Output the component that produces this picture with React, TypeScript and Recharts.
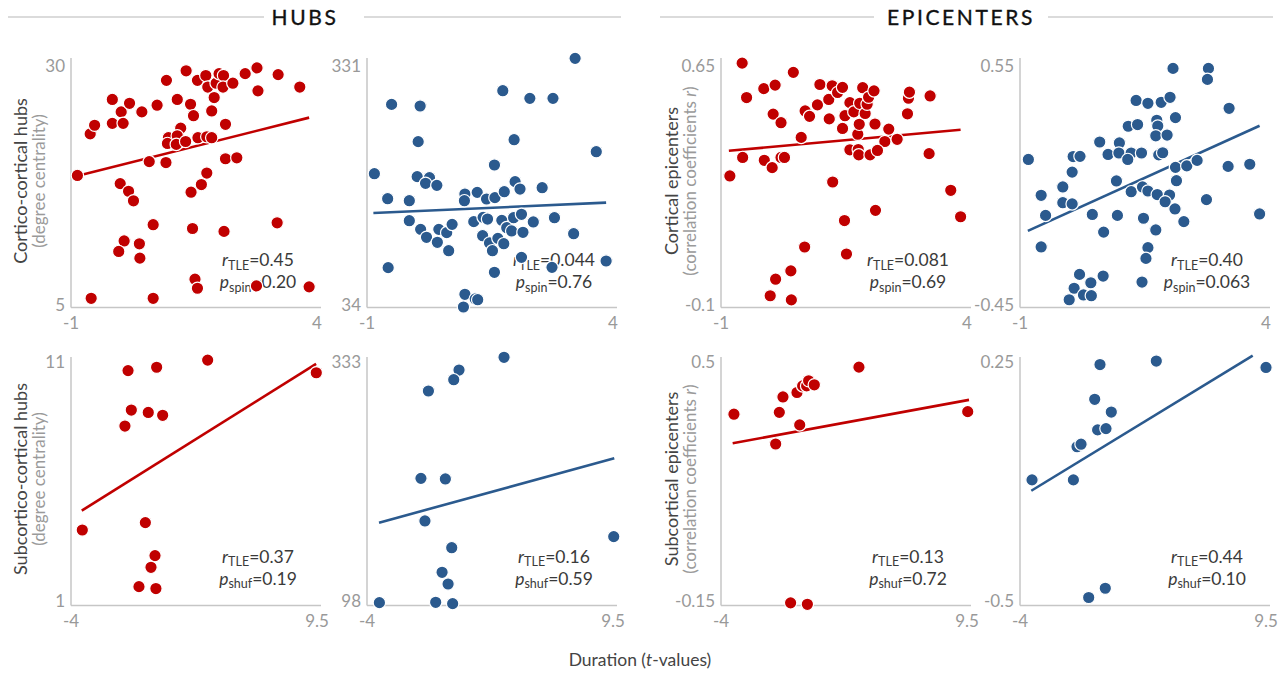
import React from 'react';
import { ScatterChart, Scatter, XAxis, YAxis, ReferenceLine } from 'recharts';

// ---------- DATA ----------
type Pt = [number, number];

// Top row x: Duration (t-values), left TLE (red) / right TLE (blue)
const ctxHubsLeft: Pt[] = [
  [-0.87, 18.55], [-0.61, 22.9], [-0.52, 23.8], [-0.16, 26.5], [0.02, 25.2], [0.19, 26.1], [-0.16, 24.0], [0.06, 24.0],
  [0.44, 25.2], [0.75, 25.9], [0.94, 28.5], [1.16, 26.5], [1.34, 29.5], [1.43, 26.0], [1.49, 24.8], [1.57, 28.5],
  [1.74, 29.0], [1.78, 27.8], [1.91, 26.7], [1.86, 25.3], [1.95, 28.2], [2.01, 29.2], [2.1, 29.0], [2.09, 27.8],
  [2.29, 28.2], [2.54, 29.2], [2.78, 29.8], [2.8, 27.4], [3.21, 29.1], [3.65, 27.8], [2.14, 23.9], [1.23, 23.5],
  [0.98, 22.5], [1.16, 22.7], [0.96, 21.9], [1.14, 21.8], [1.33, 22.1], [1.58, 22.5], [1.76, 22.6], [1.86, 22.5],
  [0.59, 20.0], [0.93, 19.9], [2.14, 20.3], [2.37, 20.4], [1.76, 18.8], [1.65, 17.6], [1.44, 16.8], [0.0, 17.7],
  [0.17, 16.9], [0.27, 15.9], [0.67, 13.4], [1.47, 13.0], [2.11, 12.7], [3.19, 13.6], [0.08, 11.7], [-0.03, 10.6],
  [0.39, 11.4], [0.4, 9.9], [1.52, 7.7], [1.57, 6.75], [2.77, 7.0], [3.84, 6.9], [-0.59, 5.7], [0.67, 5.7],
];
const ctxHubsLeftFit: Pt[] = [[-0.88, 18.5], [3.84, 24.6]];

const ctxHubsRight: Pt[] = [
  [3.23, 340.5], [-0.5, 283.3], [0.08, 281.3], [1.76, 300.3], [2.31, 290.8], [2.78, 290.8], [0.04, 237.0], [1.99, 239.4],
  [3.66, 224.5], [-0.85, 197.2], [1.59, 208.0], [0.02, 193.5], [0.27, 192.2], [0.19, 185.2], [0.42, 182.7], [2.01, 187.3],
  [2.11, 178.1], [2.56, 179.8], [-0.58, 166.1], [-0.14, 163.6], [0.99, 171.9], [0.98, 163.6], [1.24, 174.0], [1.43, 165.7],
  [1.6, 167.4], [1.79, 174.8], [-0.14, 138.8], [0.09, 128.0], [0.21, 118.1], [0.43, 111.9], [0.46, 128.0], [0.62, 123.9],
  [0.73, 134.2], [0.66, 101.5], [1.17, 137.6], [1.36, 142.9], [1.45, 140.8], [1.35, 120.1], [1.49, 111.1], [1.55, 101.5],
  [1.66, 116.8], [1.78, 110.2], [1.74, 139.2], [1.84, 130.1], [1.94, 126.0], [1.98, 142.5], [2.14, 146.7], [2.17, 124.3],
  [2.38, 137.2], [2.81, 142.5], [3.2, 122.6], [2.14, 93.2], [2.76, 80.8], [3.86, 88.7], [-0.57, 80.4], [1.59, 74.6],
  [0.99, 47.3], [1.2, 41.5], [1.25, 40.6], [0.96, 31.5],
];
const ctxHubsRightFit: Pt[] = [[-0.87, 148.3], [3.86, 161.2]];

const ctxEpiLeft: Pt[] = [
  [-0.57, 0.659], [0.47, 0.63], [-0.13, 0.579], [0.1, 0.59], [-0.48, 0.551], [0.06, 0.499], [0.22, 0.472], [0.63, 0.426],
  [0.71, 0.509], [0.8, 0.492], [0.96, 0.528], [1.01, 0.592], [1.2, 0.484], [1.19, 0.545], [1.26, 0.588], [1.37, 0.567],
  [1.47, 0.583], [1.47, 0.454], [1.52, 0.494], [1.62, 0.535], [1.7, 0.506], [1.78, 0.436], [1.81, 0.467], [1.82, 0.533],
  [1.88, 0.582], [1.93, 0.501], [1.97, 0.53], [2.0, 0.552], [2.11, 0.572], [2.13, 0.468], [2.41, 0.452], [2.33, 0.413],
  [2.58, 0.42], [1.62, 0.387], [1.79, 0.388], [1.8, 0.371], [2.03, 0.371], [2.18, 0.385], [2.79, 0.5], [2.81, 0.549],
  [2.83, 0.568], [3.25, 0.556], [3.23, 0.375], [-0.56, 0.363], [-0.12, 0.354], [0.04, 0.331], [0.22, 0.363], [0.29, 0.363],
  [-0.82, 0.305], [1.27, 0.286], [3.67, 0.26], [3.87, 0.177], [2.14, 0.197], [1.51, 0.165], [0.7, 0.082], [1.55, 0.06],
  [0.42, 0.007], [0.11, -0.019], [0.0, -0.071], [0.43, -0.084],
];
const ctxEpiLeftFit: Pt[] = [[-0.84, 0.384], [3.87, 0.45]];

const ctxEpiRight: Pt[] = [
  [2.11, 0.54], [2.83, 0.54], [2.81, 0.494], [3.25, 0.373], [1.36, 0.406], [1.6, 0.394], [1.87, 0.398], [2.05, 0.419],
  [2.16, 0.334], [1.78, 0.323], [1.8, 0.299], [1.76, 0.258], [1.99, 0.261], [1.2, 0.298], [1.39, 0.305], [0.62, 0.232],
  [1.02, 0.228], [0.08, 0.171], [0.22, 0.172], [0.79, 0.18], [1.01, 0.186], [1.26, 0.186], [1.47, 0.186], [1.19, 0.159],
  [1.82, 0.178], [1.9, 0.187], [-0.83, 0.159], [0.06, 0.106], [2.16, 0.126], [2.39, 0.132], [2.6, 0.155], [3.23, 0.13],
  [3.67, 0.139], [-0.13, 0.044], [-0.57, 0.009], [-0.13, -0.022], [0.06, -0.027], [0.96, 0.069], [1.26, 0.024], [1.49, 0.044],
  [1.6, 0.027], [1.79, 0.012], [2.04, 0.01], [1.95, -0.018], [2.18, 0.07], [2.79, -0.009], [2.15, -0.048], [2.33, -0.101],
  [3.87, -0.069], [-0.48, -0.075], [0.47, -0.071], [0.98, -0.075], [1.51, -0.087], [0.7, -0.145], [1.76, -0.136], [-0.57, -0.207],
  [1.6, -0.21], [1.56, -0.255], [0.21, -0.322], [0.44, -0.357], [0.69, -0.329], [0.1, -0.38], [0.29, -0.408], [0.45, -0.411],
  [0.0, -0.428], [1.48, -0.354],
];
const ctxEpiRightFit: Pt[] = [[-0.84, -0.14], [3.87, 0.3]];

const sctxHubsLeft: Pt[] = [
  [-3.38, 3.97], [-0.87, 10.64], [0.7, 10.78], [3.5, 11.08], [9.46, 10.55], [-0.69, 8.99], [0.24, 8.89], [1.03, 8.77],
  [-1.04, 8.32], [0.08, 4.28], [0.61, 2.9], [0.39, 2.41], [-0.27, 1.6], [0.66, 1.52],
];
const sctxHubsLeftFit: Pt[] = [[-3.41, 4.78], [9.45, 10.92]];

const sctxHubsRight: Pt[] = [
  [3.52, 337.6], [1.05, 325.1], [0.76, 315.6], [-0.63, 304.5], [-1.04, 218.6], [0.3, 218.0], [-0.82, 176.7], [9.54, 161.3],
  [0.65, 150.4], [0.12, 126.2], [0.45, 114.7], [-3.32, 96.4], [-0.23, 96.7], [0.7, 95.4],
];
const sctxHubsRightFit: Pt[] = [[-3.34, 175.0], [9.57, 238.3]];

const sctxEpiLeft: Pt[] = [
  [-3.29, 0.358], [-1.0, 0.277], [-0.8, 0.363], [-0.6, 0.405], [0.17, 0.417], [0.32, 0.329], [0.48, 0.435], [0.7, 0.435],
  [0.81, 0.449], [1.12, 0.438], [3.57, 0.486], [9.54, 0.365], [-0.18, -0.155], [0.74, -0.159],
];
const sctxEpiLeftFit: Pt[] = [[-3.36, 0.279], [9.61, 0.397]];

const sctxEpiRight: Pt[] = [
  [-3.34, -0.12], [0.39, 0.242], [3.48, 0.253], [9.5, 0.233], [0.1, 0.133], [1.01, 0.093], [0.26, 0.037], [0.72, 0.041],
  [-0.87, -0.016], [-0.65, -0.008], [-1.07, -0.12], [0.68, -0.46], [-0.23, -0.489],
];
const sctxEpiRightFit: Pt[] = [[-3.38, -0.154], [8.77, 0.27]];

// tick labels
const ctxXTicks = [-1, 4];
const sctxXTicks = [-4, 9.5];
const ctxHubsLeftYTicks = [5, 30];
const ctxHubsRightYTicks = [34, 331];
const ctxEpiLeftYTicks = [-0.1, 0.65];
const ctxEpiRightYTicks = [-0.45, 0.55];
const sctxHubsLeftYTicks = [1, 11];
const sctxHubsRightYTicks = [98, 333];
const sctxEpiLeftYTicks = [-0.15, 0.5];
const sctxEpiRightYTicks = [-0.5, 0.25];

// statistics text
const rValues = ['0.45', '0.044', '0.081', '0.40', '0.37', '0.16', '0.13', '0.44'];
const pValues = ['0.20', '0.76', '0.69', '0.063', '0.19', '0.59', '0.72', '0.10'];
const pTests = ['spin', 'spin', 'spin', 'spin', 'shuf', 'shuf', 'shuf', 'shuf'];

// ---------- STYLE / LAYOUT ----------
const RED = '#C00000';
const BLUE = '#2B5A8E';
const AXIS = '#c6c6c6';
const TICK = '#999999';
const TEXT = '#3a3a3a';
const FONT = 'Lato, "Open Sans", "DejaVu Sans", sans-serif';

const YW = 60; // y-axis width
const PW = 246; // data span width in px
const RP = 4; // extra right axis length
const XH = 30; // x-axis height
const M = 12; // chart margin
const ROWS = [
  { t1: 66, t0: 305, a: 8, b: 2.5, ann1: 266, ann2: 288 },
  { t1: 362, t0: 601, a: 5, b: 4.5, ann1: 562.5, ann2: 584.5 },
];
const COLS = [71, 367, 721, 1020];

const panels = [
  { row: 0, col: 0, data: ctxHubsLeft, fit: ctxHubsLeftFit, xTicks: ctxXTicks, yTicks: ctxHubsLeftYTicks, color: RED },
  { row: 0, col: 1, data: ctxHubsRight, fit: ctxHubsRightFit, xTicks: ctxXTicks, yTicks: ctxHubsRightYTicks, color: BLUE },
  { row: 0, col: 2, data: ctxEpiLeft, fit: ctxEpiLeftFit, xTicks: ctxXTicks, yTicks: ctxEpiLeftYTicks, color: RED },
  { row: 0, col: 3, data: ctxEpiRight, fit: ctxEpiRightFit, xTicks: ctxXTicks, yTicks: ctxEpiRightYTicks, color: BLUE },
  { row: 1, col: 0, data: sctxHubsLeft, fit: sctxHubsLeftFit, xTicks: sctxXTicks, yTicks: sctxHubsLeftYTicks, color: RED },
  { row: 1, col: 1, data: sctxHubsRight, fit: sctxHubsRightFit, xTicks: sctxXTicks, yTicks: sctxHubsRightYTicks, color: BLUE },
  { row: 1, col: 2, data: sctxEpiLeft, fit: sctxEpiLeftFit, xTicks: sctxXTicks, yTicks: sctxEpiLeftYTicks, color: RED },
  { row: 1, col: 3, data: sctxEpiRight, fit: sctxEpiRightFit, xTicks: sctxXTicks, yTicks: sctxEpiRightYTicks, color: BLUE },
];

function Panel({ p }: { p: (typeof panels)[number] }) {
  const R = ROWS[p.row];
  const axisX = COLS[p.col];
  const plotTop = R.t1 - R.a;
  const plotBot = R.t0 + R.b;
  const plotH = plotBot - plotTop;
  const ky = (p.yTicks[1] - p.yTicks[0]) / (R.t0 - R.t1);
  const kx = (p.xTicks[1] - p.xTicks[0]) / PW;
  const yDomain = [p.yTicks[0] - R.b * ky, p.yTicks[1] + R.a * ky];
  const xDomain = [p.xTicks[0], p.xTicks[1] + RP * kx];
  const pts = p.data.map(([x, y]) => ({ x, y }));
  const color = p.color;
  const dot = (props: any) => (
    <circle cx={props.cx} cy={props.cy} r={6.2} fill={color} stroke="#ffffff" strokeWidth={1.2} />
  );
  return (
    <div style={{ position: 'absolute', left: axisX - YW, top: plotTop - M }}>
      <ScatterChart
        width={YW + PW + RP + M}
        height={M + plotH + XH}
        margin={{ top: M, right: M, bottom: 0, left: 0 }}
      >
        <XAxis
          type="number"
          dataKey="x"
          domain={xDomain}
          ticks={p.xTicks}
          interval={0}
          height={XH}
          axisLine={{ stroke: AXIS, strokeWidth: 1.5 }}
          tickLine={false}
          tickSize={0}
          tickMargin={9}
          tick={{ fill: TICK, fontSize: 17 }}
        />
        <YAxis
          type="number"
          dataKey="y"
          domain={yDomain}
          ticks={p.yTicks}
          interval={0}
          width={YW}
          axisLine={{ stroke: AXIS, strokeWidth: 1.5 }}
          tickLine={false}
          tickSize={0}
          tickMargin={6}
          tick={{ fill: TICK, fontSize: 17 }}
        />
        <Scatter data={pts} shape={dot} isAnimationActive={false} />
        <ReferenceLine
          segment={[{ x: p.fit[0][0], y: p.fit[0][1] }, { x: p.fit[1][0], y: p.fit[1][1] }]}
          stroke={color}
          strokeWidth={2.6}
          ifOverflow="visible"
        />
      </ScatterChart>
    </div>
  );
}

function Header({ text, cx, l1, l2, r1, r2 }: { text: string; cx: number; l1: number; l2: number; r1: number; r2: number }) {
  return (
    <g>
      <line x1={l1} x2={l2} y1={17} y2={17} stroke="#b8b8b8" strokeWidth={1.2} />
      <line x1={r1} x2={r2} y1={17} y2={17} stroke="#b8b8b8" strokeWidth={1.2} />
      <text x={cx} y={25} textAnchor="middle" fontSize={21} letterSpacing={2.6} fill="#111" stroke="#111" strokeWidth={0.35}>
        {text}
      </text>
    </g>
  );
}

function YTitle({ x, y, main, sub }: { x: number; y: number; main: string; sub: React.ReactNode }) {
  return (
    <g>
      <text transform={`translate(${x},${y}) rotate(-90)`} textAnchor="middle" dominantBaseline="central" fontSize={18} fill="#444">
        {main}
      </text>
      <text transform={`translate(${x + 18},${y}) rotate(-90)`} textAnchor="middle" dominantBaseline="central" fontSize={17} fill="#9a9a9a">
        {sub}
      </text>
    </g>
  );
}

export default function App() {
  return (
    <div style={{ position: 'absolute', left: 0, top: 0, width: 1286, height: 677, background: '#fff', fontFamily: FONT }}>
      <svg width={1286} height={677} style={{ position: 'absolute', left: 0, top: 0 }} fontFamily={FONT}>
        <Header text="HUBS" cx={305} l1={8} l2={264} r1={364} r2={621} />
        <Header text="EPICENTERS" cx={961} l1={660} l2={874} r1={1048} r2={1273} />
        <YTitle x={20} y={181} main="Cortico-cortical hubs" sub="(degree centrality)" />
        <YTitle x={20} y={479} main="Subcortico-cortical hubs" sub="(degree centrality)" />
        <YTitle
          x={671}
          y={181}
          main="Cortical epicenters"
          sub={<>(correlation coefficients <tspan fontStyle="italic">r</tspan>)</>}
        />
        <YTitle
          x={671}
          y={479}
          main="Subcortical epicenters"
          sub={<>(correlation coefficients <tspan fontStyle="italic">r</tspan>)</>}
        />
        {panels.map((p, i) => {
          const R = ROWS[p.row];
          const cx = COLS[p.col] + 187;
          return (
            <g key={i} fontSize={17.5} fill={TEXT}>
              <text x={cx} y={R.ann1} textAnchor="middle">
                <tspan fontStyle="italic">r</tspan>
                <tspan fontSize={12.5} dy={3.5}>TLE</tspan>
                <tspan dy={-3.5}>={rValues[i]}</tspan>
              </text>
              <text x={cx} y={R.ann2} textAnchor="middle">
                <tspan fontStyle="italic">p</tspan>
                <tspan fontSize={12.5} dy={3.5}>{pTests[i]}</tspan>
                <tspan dy={-3.5}>={pValues[i]}</tspan>
              </text>
            </g>
          );
        })}
        <text x={640} y={666} textAnchor="middle" fontSize={17.5} fill="#444">
          Duration (<tspan fontStyle="italic">t</tspan>-values)
        </text>
      </svg>
      {panels.map((p, i) => (
        <Panel key={i} p={p} />
      ))}
    </div>
  );
}
